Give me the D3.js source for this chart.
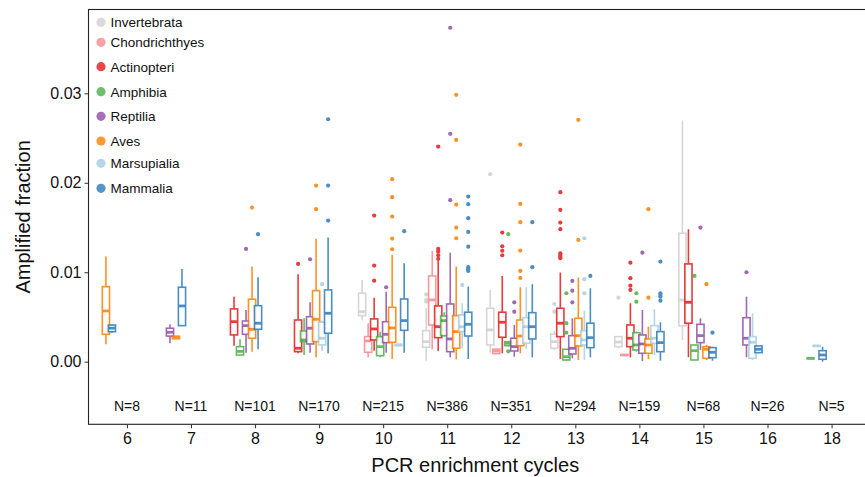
<!DOCTYPE html>
<html><head><meta charset="utf-8">
<script src="https://cdn.jsdelivr.net/npm/d3@7"></script>
<style>
body{margin:0;background:#fff;}
svg text{font-family:"Liberation Sans",Arial,Helvetica,sans-serif;fill:#111;}
</style></head><body>
<svg id="chart" width="865" height="477"></svg>
<script>
const cycles = ["6","7","8","9","10","11","12","13","14","15","16","18"];
const counts = [8,11,101,170,215,386,351,294,159,68,26,5];
const classes = ["Invertebrata","Chondrichthyes","Actinopteri","Amphibia","Reptilia","Aves","Marsupialia","Mammalia"];
const colors = ["#cfcfcf","#f7898c","#e31a1c","#4daf4a","#8f4fa6","#ff7f00","#a6cee3","#2b7bba"];
const yTicks = [0, 0.01, 0.02, 0.03];
const nLabelY = -0.005;

// [cycle, class, lowerWhisker, Q1, median, Q3, upperWhisker]
const boxStats = [
 ["6","Aves",0.00195,0.00306,0.00567,0.00839,0.01175],
 ["6","Mammalia",0.0032,0.00335,0.00375,0.0041,0.00418],
 ["7","Reptilia",0.00206,0.00286,0.00329,0.00374,0.00418],
 ["7","Aves",0.0025,0.00256,0.00273,0.00284,0.0029],
 ["7","Mammalia",0.004,0.00403,0.00623,0.00832,0.01037],
 ["8","Actinopteri",0.00179,0.00299,0.00447,0.0059,0.00727],
 ["8","Amphibia",0.0007,0.00074,0.00115,0.00168,0.0025],
 ["8","Reptilia",0.00101,0.00306,0.00403,0.00455,0.00578],
 ["8","Aves",0.00112,0.00262,0.00362,0.00698,0.01063],
 ["8","Mammalia",0.00139,0.00362,0.0043,0.00626,0.00944],
 ["9","Actinopteri",0.00094,0.00112,0.0015,0.00466,0.00978],
 ["9","Amphibia",0.00075,0.00224,0.00243,0.00343,0.00485],
 ["9","Reptilia",0.00101,0.00198,0.00374,0.00503,0.00664],
 ["9","Aves",0.00049,0.00224,0.00474,0.00794,0.01373],
 ["9","Marsupialia",0.0012,0.00187,0.00262,0.00441,0.0046],
 ["9","Mammalia",0.00094,0.00318,0.00541,0.00802,0.01387],
 ["10","Invertebrata",0.00459,0.00515,0.00559,0.00765,0.00914],
 ["10","Chondrichthyes",0.00049,0.00105,0.00232,0.0028,0.0043],
 ["10","Actinopteri",0.00123,0.00243,0.00366,0.00478,0.00716],
 ["10","Amphibia",0.00049,0.00067,0.00168,0.0028,0.00336],
 ["10","Reptilia",0.00101,0.00213,0.00306,0.00447,0.00783],
 ["10","Aves",0.0003,0.00217,0.00377,0.00608,0.01193],
 ["10","Marsupialia",0.0018,0.0018,0.00187,0.00193,0.00195],
 ["10","Mammalia",0.00101,0.00351,0.00459,0.00701,0.011],
 ["11","Invertebrata",0.00011,0.00161,0.00224,0.00347,0.00597],
 ["11","Chondrichthyes",0.00139,0.00411,0.0069,0.00959,0.01238],
 ["11","Actinopteri",0.0012,0.00268,0.00391,0.00623,0.01145],
 ["11","Amphibia",0.0028,0.00291,0.00459,0.00511,0.00553],
 ["11","Reptilia",0.00049,0.00112,0.00254,0.00645,0.01219],
 ["11","Aves",0.00027,0.0015,0.00336,0.00515,0.01063],
 ["11","Marsupialia",0.0015,0.00336,0.00391,0.00522,0.00653],
 ["11","Mammalia",0.0003,0.00287,0.00418,0.00553,0.00839],
 ["12","Invertebrata",0.00101,0.00187,0.00355,0.00597,0.00802],
 ["12","Chondrichthyes",0.00086,0.0009,0.0012,0.0014,0.00145],
 ["12","Actinopteri",0.00094,0.00273,0.00441,0.00553,0.00959],
 ["12","Amphibia",0.0017,0.00179,0.00205,0.00224,0.0023],
 ["12","Reptilia",0.00056,0.0012,0.00168,0.00262,0.0041],
 ["12","Aves",0.00094,0.00179,0.00287,0.00466,0.00832],
 ["12","Marsupialia",0.00142,0.00206,0.00391,0.00492,0.00832],
 ["12","Mammalia",0.00049,0.00254,0.00391,0.00548,0.00866],
 ["13","Invertebrata",0.0013,0.0015,0.00224,0.00309,0.00343],
 ["13","Actinopteri",0.0003,0.0028,0.0043,0.00597,0.00996],
 ["13","Amphibia",0.0001,0.00019,0.00056,0.00139,0.00142],
 ["13","Reptilia",0.00038,0.00086,0.0015,0.00291,0.00485],
 ["13","Aves",0.00019,0.00176,0.00291,0.00485,0.0094],
 ["13","Marsupialia",0.00019,0.00187,0.00243,0.00347,0.0057],
 ["13","Mammalia",0.00049,0.00157,0.00268,0.0043,0.00821],
 ["14","Invertebrata",0.0015,0.00168,0.0022,0.0028,0.0028],
 ["14","Chondrichthyes",0.0007,0.00072,0.00075,0.00078,0.0008],
 ["14","Actinopteri",0.00049,0.00168,0.00262,0.0041,0.00653],
 ["14","Amphibia",0.00112,0.00131,0.00187,0.00324,0.00336],
 ["14","Reptilia",0.00008,0.00094,0.00198,0.00299,0.00578],
 ["14","Aves",0.00027,0.00094,0.00187,0.00254,0.00392],
 ["14","Marsupialia",0.00075,0.00206,0.00262,0.00403,0.00586],
 ["14","Mammalia",0.00011,0.00112,0.00213,0.00336,0.00441],
 ["15","Invertebrata",0.00243,0.004,0.0069,0.01436,0.02696],
 ["15","Actinopteri",0.00049,0.0043,0.00664,0.01093,0.01481],
 ["15","Amphibia",0.00015,0.00019,0.00123,0.00187,0.0019],
 ["15","Reptilia",0.00131,0.00213,0.00291,0.00418,0.00485],
 ["15","Aves",0.00019,0.00038,0.00139,0.00168,0.00187],
 ["15","Mammalia",0.00011,0.00045,0.00105,0.00157,0.00168],
 ["16","Reptilia",0.00049,0.00187,0.00262,0.00492,0.00727],
 ["16","Marsupialia",0.00019,0.00038,0.00217,0.0028,0.00541],
 ["16","Mammalia",0.00095,0.00101,0.00139,0.00176,0.0018],
 ["18","Amphibia",0.00036,0.00037,0.00038,0.00039,0.0004],
 ["18","Marsupialia",0.00172,0.00173,0.00176,0.00179,0.0018],
 ["18","Mammalia",0.0,0.00027,0.00075,0.00123,0.00168]
];

// [cycle, class, value]
const outliers = [
 ["8","Reptilia",0.0126],["8","Aves",0.01723],["8","Mammalia",0.01425],
 ["9","Actinopteri",0.01093],["9","Reptilia",0.01145],["9","Aves",0.01969],["9","Aves",0.01705],
 ["9","Marsupialia",0.00866],["9","Mammalia",0.01969],["9","Mammalia",0.01577],["9","Mammalia",0.0271],
 ["10","Actinopteri",0.01633],["10","Actinopteri",0.01074],["10","Actinopteri",0.00906],
 ["10","Reptilia",0.00832],["10","Aves",0.0204],["10","Aves",0.01839],["10","Aves",0.01622],
 ["10","Aves",0.01376],["10","Aves",0.01257],["10","Mammalia",0.01459],
 ["11","Invertebrata",0.0075],["11","Invertebrata",0.0069],["11","Invertebrata",0.0067],
 ["11","Actinopteri",0.02405],["11","Actinopteri",0.0126],["11","Actinopteri",0.0123],["11","Actinopteri",0.0119],["11","Actinopteri",0.0115],
 ["11","Reptilia",0.03733],["11","Reptilia",0.02547],["11","Reptilia",0.01805],
 ["11","Aves",0.02983],["11","Aves",0.02479],["11","Aves",0.01756],["11","Aves",0.01499],["11","Aves",0.0138],
 ["11","Marsupialia",0.00858],
 ["11","Mammalia",0.01846],["11","Mammalia",0.01761],["11","Mammalia",0.01604],["11","Mammalia",0.01451],
 ["11","Mammalia",0.01286],["11","Mammalia",0.01056],["11","Mammalia",0.01034],["11","Mammalia",0.01015],
 ["12","Invertebrata",0.02096],
 ["12","Actinopteri",0.01443],["12","Actinopteri",0.0129],["12","Actinopteri",0.0124],["12","Actinopteri",0.0119],
 ["12","Amphibia",0.01425],["12","Amphibia",0.00116],
 ["12","Reptilia",0.00664],["12","Reptilia",0.00559],
 ["12","Aves",0.02427],["12","Aves",0.01764],["12","Aves",0.01559],["12","Aves",0.01242],["12","Aves",0.01015],["12","Aves",0.00936],
 ["12","Mammalia",0.01559],["12","Mammalia",0.01056],
 ["13","Invertebrata",0.00645],["13","Invertebrata",0.00559],
 ["13","Actinopteri",0.01895],["13","Actinopteri",0.01697],["13","Actinopteri",0.01555],["13","Actinopteri",0.01481],
 ["13","Actinopteri",0.01212],["13","Actinopteri",0.01193],["13","Actinopteri",0.01174],["13","Actinopteri",0.01157],
 ["13","Amphibia",0.00765],["13","Amphibia",0.0043],["13","Amphibia",0.00324],
 ["13","Reptilia",0.00903],["13","Reptilia",0.00794],["13","Reptilia",0.00664],
 ["13","Aves",0.02704],["13","Aves",0.01361],
 ["13","Marsupialia",0.0138],["13","Marsupialia",0.00922],["13","Marsupialia",0.00765],
 ["13","Mammalia",0.00959],
 ["14","Invertebrata",0.00716],
 ["14","Actinopteri",0.01107],["14","Actinopteri",0.00933],["14","Actinopteri",0.0085],["14","Actinopteri",0.00802],
 ["14","Amphibia",0.00765],["14","Amphibia",0.00671],
 ["14","Reptilia",0.01219],
 ["14","Aves",0.01705],["14","Aves",0.00716],
 ["14","Mammalia",0.01119],["14","Mammalia",0.00765],["14","Mammalia",0.00746],["14","Mammalia",0.00727],["14","Mammalia",0.00682],
 ["15","Amphibia",0.00959],["15","Reptilia",0.01499],["15","Aves",0.00866],["15","Mammalia",0.00324],
 ["16","Reptilia",0.01]
];

const legendRowY = [22.3, 42.3, 66.7, 91.7, 116.3, 141, 163.3, 188.3];

const svg = d3.select("#chart");
const panel = {left: 88.5, right: 870, top: 9.5, bottom: 424.3};

const x = d3.scalePoint().domain(cycles).range([panel.left, panel.right]).padding(0.6);
const y = d3.scaleLinear().domain([-0.007, 0.03937]).range([panel.bottom, panel.top]);
const color = d3.scaleOrdinal().domain(classes).range(colors);
const step = x.step();
const nSlots = classes.length;
const dodgeW = 0.75 * step, boxW = 0.9 * step / nSlots;

// slot index of each class within its cycle (left-aligned dodge, preserve single)
const slotOf = {};
cycles.forEach(c => {
  const present = classes.filter(k => boxStats.some(b => b[0] === c && b[1] === k));
  present.forEach((k, j) => slotOf[c + "|" + k] = j);
});
const xPos = (c, k) => x(c) + dodgeW * ((slotOf[c + "|" + k] + 0.5) / nSlots - 0.5);

// panel border
svg.append("rect").attr("x", panel.left).attr("y", panel.top)
  .attr("width", panel.right - panel.left).attr("height", panel.bottom - panel.top)
  .attr("fill", "none").attr("stroke", "#222").attr("stroke-width", 1.1);

const g = svg.append("g");
const alpha = 0.85;
cycles.forEach(c => {
  classes.forEach(k => {
    const b = boxStats.find(r => r[0] === c && r[1] === k);
    if (!b) return;
    const cx = xPos(c, k), col = color(k);
    const grp = g.append("g").attr("opacity", alpha);
    outliers.filter(o => o[0] === c && o[1] === k).forEach(o => {
      grp.append("circle").attr("cx", cx).attr("cy", y(o[2])).attr("r", 2.1).attr("fill", col);
    });
    grp.append("line").attr("x1", cx).attr("x2", cx).attr("y1", y(b[6])).attr("y2", y(b[5]))
      .attr("stroke", col).attr("stroke-width", 1.6);
    grp.append("line").attr("x1", cx).attr("x2", cx).attr("y1", y(b[3])).attr("y2", y(b[2]))
      .attr("stroke", col).attr("stroke-width", 1.6);
    grp.append("rect").attr("x", cx - boxW / 2).attr("width", boxW)
      .attr("y", y(b[5])).attr("height", Math.max(0.5, y(b[3]) - y(b[5])))
      .attr("fill", "#fff").attr("stroke", col).attr("stroke-width", 1.6);
    grp.append("line").attr("x1", cx - boxW / 2).attr("x2", cx + boxW / 2)
      .attr("y1", y(b[4])).attr("y2", y(b[4])).attr("stroke", col).attr("stroke-width", 2.8);
  });
});

// N labels
svg.append("g").selectAll("text").data(cycles).join("text")
  .attr("x", d => x(d)).attr("y", y(nLabelY)).attr("dy", "0.36em")
  .attr("text-anchor", "middle").style("font-size", "14px")
  .text((d, i) => "N=" + counts[i]);

// axes
const yAxis = svg.append("g").attr("transform", `translate(${panel.left},0)`)
  .call(d3.axisLeft(y).tickValues(yTicks).tickFormat(d3.format(".2f")).tickSize(4).tickPadding(3));
yAxis.select(".domain").remove();
yAxis.selectAll("line").attr("stroke", "#333");
yAxis.selectAll("text").style("font-size", "16px").attr("fill", "#111");

const xAxis = svg.append("g").attr("transform", `translate(0,${panel.bottom})`)
  .call(d3.axisBottom(x).tickSize(4).tickPadding(4));
xAxis.select(".domain").remove();
xAxis.selectAll("line").attr("stroke", "#333");
xAxis.selectAll("text").style("font-size", "16px").attr("fill", "#111");

svg.append("text").attr("x", (panel.left + 870) / 2 - 4).attr("y", 472)
  .attr("text-anchor", "middle").style("font-size", "20px").text("PCR enrichment cycles");
svg.append("text").attr("transform", `translate(30,${(panel.top + panel.bottom) / 2}) rotate(-90)`)
  .attr("text-anchor", "middle").style("font-size", "20px").text("Amplified fraction");

// legend
const lg = svg.append("g");
classes.forEach((k, i) => {
  lg.append("circle").attr("cx", 101).attr("cy", legendRowY[i]).attr("r", 4.6)
    .attr("fill", color(k)).attr("opacity", 0.8);
  lg.append("text").attr("x", 110.5).attr("y", legendRowY[i]).attr("dy", "0.36em")
    .style("font-size", "13.5px").text(k);
});
</script></body></html>
